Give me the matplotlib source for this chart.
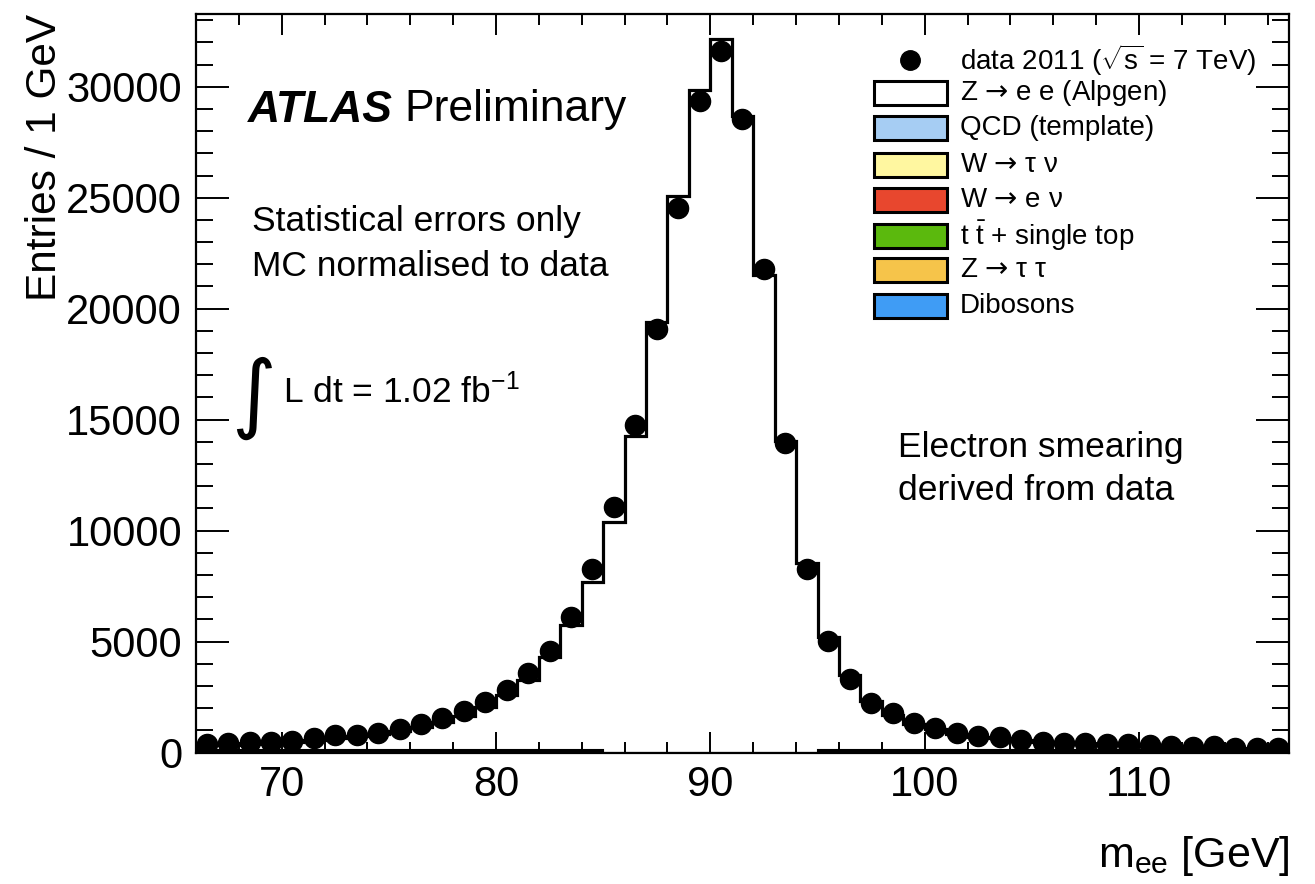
import matplotlib
matplotlib.use('Agg')
import matplotlib.pyplot as plt
import numpy as np
from matplotlib.patches import Rectangle
from matplotlib.ticker import MultipleLocator

# ---------------- data ----------------
bin_edges = list(range(66, 118))  # 1 GeV bins, 66..117
data_2011 = [390, 420, 465, 470, 540, 650, 770, 800, 890, 1070,
             1265, 1565, 1850, 2270, 2830, 3580, 4570, 6110, 8250, 11040,
             14770, 19080, 24520, 29370, 31630, 28550, 21790, 13960, 8260, 5030,
             3300, 2210, 1760, 1340, 1090, 865, 745, 685, 565, 490,
             440, 440, 385, 380, 340, 310, 260, 305, 215, 215, 185]
mc_total = [330, 360, 400, 430, 480, 560, 650, 730, 830, 960,
            1140, 1380, 1650, 2048, 2575, 3252, 4305, 5736, 7690, 10400,
            14240, 19390, 25080, 29870, 32160, 28700, 21500, 14015, 8540, 5190,
            3490, 2300, 1690, 1300, 1040, 850, 720, 640, 560, 490,
            430, 390, 350, 320, 290, 270, 245, 225, 205, 190, 175]
other_bkg = [100] * 19 + [0] * 10 + [100] * 22

ARROW = "$\\mathsf{\u2192}$"
legend_labels = ["data 2011 ($\\sqrt{\\mathrm{s}}$ = 7 TeV)",
                 "Z " + ARROW + " e e (Alpgen)",
                 "QCD (template)",
                 "W " + ARROW + " $\\mathrm{\\tau}$ $\\mathrm{\\nu}$",
                 "W " + ARROW + " e $\\mathrm{\\nu}$",
                 "t $\\bar{\\mathrm{t}}$ + single top",
                 "Z " + ARROW + " $\\mathrm{\\tau}$ $\\mathrm{\\tau}$",
                 "Dibosons"]
legend_colors = ["white", "#a6cdf3", "#fff7a0", "#e8472e", "#5bb90d", "#f6c44a", "#3f9cf5"]

x_ticks = [70, 80, 90, 100, 110]
y_ticks = [0, 5000, 10000, 15000, 20000, 25000, 30000]

# ---------------- style ----------------
plt.rcParams['font.family'] = ['Liberation Sans', 'DejaVu Sans']
plt.rcParams['mathtext.fontset'] = 'custom'
plt.rcParams['mathtext.rm'] = 'Liberation Sans'
plt.rcParams['mathtext.it'] = 'Liberation Sans:italic'
plt.rcParams['mathtext.bf'] = 'Liberation Sans:bold'
plt.rcParams['mathtext.sf'] = 'DejaVu Sans'

W, H = 1315, 884
fig = plt.figure(figsize=(W / 100, H / 100), dpi=100)


def fx(x):
    return x / W


def fy(y):
    return 1 - y / H


ax = fig.add_axes([fx(196), fy(752.5), fx(1289) - fx(196), fy(13.5) - fy(752.5)])

edges = np.array(bin_edges, dtype=float)
centers = 0.5 * (edges[:-1] + edges[1:])

ax.stairs(mc_total, edges, fill=True, color='white', zorder=1)
ax.stairs(mc_total, edges, color='black', lw=2.3, zorder=2)
ax.stairs(other_bkg, edges, fill=True, facecolor='black', edgecolor='black', lw=1.5, zorder=3)
ax.plot(centers, data_2011, 'o', color='black', ms=14.5, zorder=5)

ax.set_xlim(66, 117)
ax.set_ylim(0, 33300)
ax.set_xticks(x_ticks)
ax.set_yticks(y_ticks)
ax.xaxis.set_minor_locator(MultipleLocator(2))
ax.yaxis.set_minor_locator(MultipleLocator(1000))
ax.tick_params(axis='both', which='both', direction='in', top=True, right=True,
               labelsize=30, width=1.4)
ax.tick_params(axis='x', which='major', length=15, pad=9)
ax.tick_params(axis='x', which='minor', length=8)
ax.tick_params(axis='y', which='major', length=24, pad=10)
ax.tick_params(axis='y', which='minor', length=12)
for s in ax.spines.values():
    s.set_linewidth(1.6)

# axis titles
fig.text(fx(45), fy(14), "Entries / 1 GeV", rotation=90, ha='center', va='top', fontsize=30.5)
fig.text(fx(1290), fy(856), "m$_{\\mathrm{ee}}$ [GeV]", ha='right', va='center', fontsize=31)

# annotations
fig.text(fx(248), fy(110), "ATLAS", fontsize=32, fontweight='bold', fontstyle='italic',
         ha='left', va='center')
fig.text(fx(404), fy(110), "Preliminary", fontsize=32, ha='left', va='center')
fig.text(fx(252), fy(222), "Statistical errors only", fontsize=25.5, ha='left', va='center')
fig.text(fx(252), fy(267), "MC normalised to data", fontsize=25.5, ha='left', va='center')
fig.text(fx(254), fy(398), "\u222b", fontsize=62, ha='center', va='center',
         family=['DejaVu Sans'], fontstyle='normal')
fig.text(fx(283), fy(392), "L dt = 1.02 fb$^{\\mathrm{-1}}$", fontsize=25.5, ha='left', va='center')
fig.text(fx(898), fy(447), "Electron smearing", fontsize=25.5, ha='left', va='center')
fig.text(fx(898), fy(490), "derived from data", fontsize=25.5, ha='left', va='center')

# legend (drawn manually)
row_y = [60, 93, 128, 165, 200, 236, 270, 306]
fig.lines.append(plt.Line2D([fx(910)], [fy(row_y[0])], marker='o', ms=14, color='black',
                            transform=fig.transFigure))
for i, col in enumerate(legend_colors):
    y = row_y[i + 1]
    fig.patches.append(Rectangle((fx(874), fy(y + 12)), fx(947) - fx(874), fy(y - 12) - fy(y + 12),
                                 facecolor=col, edgecolor='black', lw=2.2,
                                 transform=fig.transFigure))
for lab, y in zip(legend_labels, row_y):
    fig.text(fx(960), fy(y), lab, fontsize=20, ha='left', va='center')

fig.savefig('out.png', dpi=100)
